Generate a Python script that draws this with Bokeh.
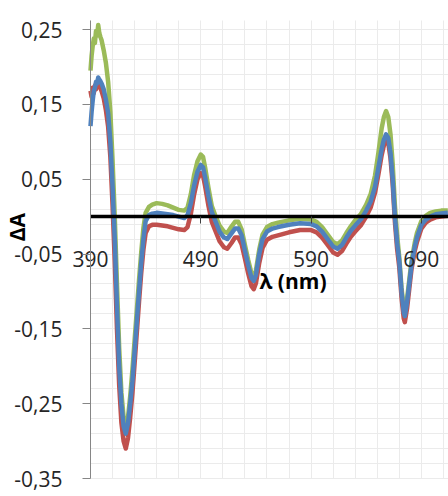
import numpy as np
from bokeh.plotting import figure
from bokeh.models import FixedTicker, Label, Range1d, Grid, BoxAnnotation
from bokeh.embed import file_html
from bokeh.resources import INLINE

# ---- data ----
wavelength = [390, 391, 392, 393, 394, 395, 396, 397, 398, 399, 400,
              402, 404, 406, 408, 410, 412, 414, 416, 418, 420, 422, 424, 426, 428, 430,
              432, 434, 436, 438, 440,
              443, 446, 450, 455, 460, 465, 470, 475, 478, 481, 484, 487,
              490, 492, 494, 497, 500, 503, 507, 511, 514, 518, 521, 524, 527, 530, 533,
              536, 538, 540, 543, 546, 550, 555, 560,
              570, 580, 590, 595, 600, 605, 610, 614, 618, 622, 626, 630, 635, 640, 644,
              648, 651, 654, 656, 658, 660, 662, 664, 666, 668, 670, 672, 674, 675, 677,
              679, 681, 684, 686, 690, 694, 698, 703, 708, 714]

series_green = [0.195, 0.215, 0.228, 0.238, 0.232, 0.248, 0.242, 0.256, 0.245, 0.240, 0.236,
                0.222, 0.205, 0.180, 0.140, 0.075, 0.000, -0.090, -0.175, -0.235, -0.268, -0.280,
                -0.268, -0.240, -0.205, -0.165, -0.125, -0.085, -0.048, -0.015, 0.005,
                0.013, 0.016, 0.018, 0.017, 0.015, 0.012, 0.009, 0.008, 0.012, 0.030, 0.056, 0.074,
                0.083, 0.080, 0.065, 0.038, 0.014, 0.002, -0.012, -0.020, -0.022, -0.013, -0.007,
                -0.007, -0.017, -0.038, -0.058, -0.076, -0.080, -0.072, -0.044, -0.024, -0.014,
                -0.010, -0.008,
                -0.005, -0.003, -0.004, -0.007, -0.014, -0.024, -0.034, -0.037, -0.032, -0.022,
                -0.013, -0.005, 0.003, 0.016, 0.030, 0.055, 0.085, 0.118, 0.133, 0.141, 0.133,
                0.110, 0.070, 0.015, -0.025, -0.055, -0.095, -0.122, -0.127, -0.110, -0.085,
                -0.060, -0.035, -0.022, -0.006, 0.001, 0.005, 0.007, 0.008, 0.008]

series_red = [0.168, 0.160, 0.172, 0.165, 0.175, 0.170, 0.178, 0.180, 0.176, 0.172, 0.168,
              0.158, 0.142, 0.120, 0.080, 0.015, -0.060, -0.150, -0.225, -0.275, -0.300, -0.310,
              -0.296, -0.268, -0.236, -0.196, -0.155, -0.114, -0.075, -0.044, -0.022,
              -0.013, -0.011, -0.011, -0.012, -0.013, -0.015, -0.017, -0.018, -0.014, 0.004, 0.030,
              0.050,
              0.058, 0.055, 0.040, 0.014, -0.007, -0.018, -0.033, -0.041, -0.043, -0.035, -0.028,
              -0.028, -0.037, -0.056, -0.076, -0.093, -0.097, -0.089, -0.062, -0.042, -0.031,
              -0.027, -0.025,
              -0.021, -0.018, -0.018, -0.021, -0.028, -0.038, -0.048, -0.051, -0.046, -0.036,
              -0.027, -0.020, -0.012, 0.000, 0.012, 0.032, 0.056, 0.082, 0.095, 0.103, 0.098,
              0.078, 0.043, -0.007, -0.043, -0.068, -0.108, -0.136, -0.141, -0.123, -0.097,
              -0.071, -0.046, -0.034, -0.016, -0.008, -0.004, -0.001, 0.000, 0.001]

series_blue = [0.121, 0.140, 0.155, 0.168, 0.172, 0.180, 0.178, 0.186, 0.183, 0.181, 0.178,
               0.170, 0.156, 0.138, 0.100, 0.040, -0.030, -0.120, -0.200, -0.250, -0.280, -0.290,
               -0.276, -0.250, -0.220, -0.180, -0.140, -0.100, -0.062, -0.030, -0.006,
               0.002, 0.004, 0.005, 0.004, 0.003, 0.002, 0.000, -0.002, 0.002, 0.018, 0.042, 0.060,
               0.069, 0.066, 0.052, 0.027, 0.006, -0.005, -0.020, -0.028, -0.030, -0.022, -0.016,
               -0.016, -0.025, -0.045, -0.065, -0.082, -0.086, -0.078, -0.050, -0.030, -0.020,
               -0.016, -0.014,
               -0.011, -0.009, -0.010, -0.013, -0.020, -0.030, -0.040, -0.043, -0.038, -0.028,
               -0.019, -0.012, -0.004, 0.008, 0.020, 0.040, 0.065, 0.090, 0.103, 0.110, 0.105,
               0.085, 0.050, 0.000, -0.035, -0.060, -0.100, -0.128, -0.133, -0.115, -0.090,
               -0.065, -0.040, -0.028, -0.011, -0.004, 0.000, 0.003, 0.004, 0.005]

x_tick_values = [390, 490, 590, 690]
x_tick_labels = ["390", "490", "590", "690"]
y_tick_values = [0.25, 0.15, 0.05, -0.05, -0.15, -0.25, -0.35]
y_tick_labels = ["0,25", "0,15", "0,05", "-0,05", "-0,15", "-0,25", "-0,35"]
x_title = "λ (nm)"
y_title = "ΔA"

colors = {"green": "#9BBB59", "red": "#C0504D", "blue": "#4F81BD"}

FONT = "Open Sans"
TEXT_COLOR = "#262626"

# plot-area extents (data units)
X_MIN, X_MAX = 390, 714.6
Y_MIN, Y_MAX = -0.35, 0.262

# frame covers the whole canvas; axes are placed at fixed locations
p = figure(width=448, height=496, output_backend="svg", toolbar_location=None,
           x_range=Range1d(308.4, X_MAX), y_range=Range1d(-0.37405, 0.28878),
           min_border=0, min_border_left=0, min_border_right=0,
           min_border_top=0, min_border_bottom=0)
p.outline_line_color = None
p.background_fill_color = "white"
p.border_fill_color = "white"

# grid
x_grid = [float(v) for v in np.arange(390, 715, 20)]
y_grid = [round(float(v), 2) for v in np.arange(-0.35, 0.2601, 0.02)]
p.xgrid.ticker = FixedTicker(ticks=x_grid)
p.ygrid.ticker = FixedTicker(ticks=y_grid)
for g in (p.xgrid, p.ygrid):
    g.grid_line_color = "#EBEBEB"
    g.grid_line_width = 1
p.xgrid.bounds = (X_MIN, X_MAX)
p.ygrid.bounds = (Y_MIN, Y_MAX)
if "cross_bounds" in Grid.properties():
    p.xgrid.cross_bounds = (Y_MIN, Y_MAX)
    p.ygrid.cross_bounds = (X_MIN, X_MAX)
else:
    for kw in (dict(right=X_MIN), dict(bottom=Y_MAX), dict(top=Y_MIN)):
        p.add_layout(BoxAnnotation(fill_color="white", fill_alpha=1, line_color=None,
                                   level="underlay", **kw))

# series
p.line(wavelength, series_green, line_color=colors["green"], line_width=4.5, line_join="round")
p.line(wavelength, series_red, line_color=colors["red"], line_width=4.5, line_join="round")
p.line(wavelength, series_blue, line_color=colors["blue"], line_width=4.5, line_join="round")

# x axis at y = 0
xa = p.xaxis[0]
xa.fixed_location = 0
xa.bounds = (X_MIN, X_MAX)
xa.ticker = FixedTicker(ticks=x_tick_values)
xa.major_label_overrides = {v: l for v, l in zip(x_tick_values, x_tick_labels)}
xa.axis_line_color = "black"
xa.axis_line_width = 3.5
xa.major_tick_line_color = "#404040"
xa.major_tick_out = 7
xa.major_tick_in = 0
xa.minor_tick_line_color = None
xa.major_label_standoff = 27
xa.major_label_text_font = FONT
xa.major_label_text_font_size = "21px"
xa.major_label_text_color = TEXT_COLOR

# y axis at x = 390
ya = p.yaxis[0]
ya.fixed_location = X_MIN
ya.bounds = (Y_MIN, Y_MAX)
ya.ticker = FixedTicker(ticks=y_tick_values)
ya.major_label_overrides = {v: l for v, l in zip(y_tick_values, y_tick_labels)}
ya.axis_line_color = "#868686"
ya.axis_line_width = 1
ya.major_tick_line_color = "#868686"
ya.major_tick_out = 8
ya.major_tick_in = 0
ya.minor_tick_line_color = None
ya.major_label_standoff = 20
ya.major_label_text_font = FONT
ya.major_label_text_font_size = "21px"
ya.major_label_text_color = TEXT_COLOR

# axis titles
p.add_layout(Label(x=573.6, y=-0.0862, text=x_title, text_font=FONT, text_font_size="21px",
                   text_font_style="bold", text_color="black", text_align="center",
                   text_baseline="middle"))
p.add_layout(Label(x=323.4, y=-0.014, text=y_title, text_font=FONT, text_font_size="21px",
                   text_font_style="bold", text_color="black", text_align="center",
                   text_baseline="middle", angle=np.pi / 2))

open("out.html", "w").write(file_html(p, INLINE))
